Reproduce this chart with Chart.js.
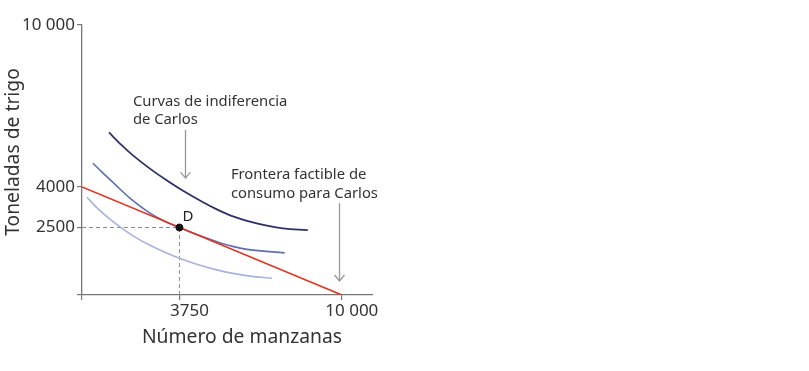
<!DOCTYPE html>
<html>
<head>
<meta charset="utf-8">
<script src="https://cdn.jsdelivr.net/npm/chart.js@4/dist/chart.umd.min.js"></script>
<style>
  html, body { margin: 0; padding: 0; background: #fff; }
  #wrap { width: 809px; height: 371px; position: relative; }
</style>
</head>
<body>
<div id="wrap"><canvas id="chart"></canvas></div>
<script>
// Ejes
const xTicks = [0, 3750, 10000];
const yTicks = [0, 2500, 4000, 10000];
const tickLabels = { 0: '', 2500: '2500', 3750: '3750', 4000: '4000', 10000: '10 000' };

// Frontera factible: 4000 toneladas de trigo o 10 000 manzanas
const frontierX = [0, 10000];
const frontierY = [4000, 0];

// Punto D
const pointD = [3750, 2500];

// Curvas de indiferencia
const outerX = [1040, 1460, 1960, 2600, 3270, 3890, 4540, 5190, 5810, 6460, 7120, 7730, 8690];
const outerY = [6020, 5610, 5170, 4690, 4240, 3860, 3500, 3170, 2910, 2720, 2570, 2470, 2400];
const middleX = [420, 770, 1270, 1900, 2600, 3200, 3750, 4500, 5200, 5800, 6500, 7800];
const middleY = [4880, 4550, 4100, 3540, 3040, 2720, 2500, 2210, 1970, 1800, 1670, 1560];
const innerX = [190, 650, 1270, 1920, 2580, 3190, 3850, 4540, 5190, 5810, 6460, 7310];
const innerY = [3620, 3160, 2660, 2220, 1860, 1580, 1320, 1100, 930, 800, 700, 620];

// Anotaciones (en coordenadas de datos)
const notes = [
  { x: 1960, y: 7150, text: 'Curvas de indiferencia' },
  { x: 1960, y: 6480, text: 'de Carlos' },
  { x: 5730, y: 4440, text: 'Frontera factible de' },
  { x: 5730, y: 3740, text: 'consumo para Carlos' },
];
const arrows = [
  { x: 3950, from: 6110, to: 4330 },
  { x: 9880, from: 3400, to: 520 },
];

const FONT = '"Noto Sans", "DejaVu Sans", sans-serif';
const toPts = (xs, ys) => xs.map((x, i) => ({ x, y: ys[i] }));

const curve = (data, color, width) => ({
  data,
  showLine: true,
  borderColor: color,
  borderWidth: width,
  pointRadius: 0,
  tension: 0.4,
  fill: false,
});

const annotations = {
  id: 'annotations',
  afterDatasetsDraw(chart) {
    const { ctx, scales: { x, y } } = chart;
    ctx.save();
    ctx.fillStyle = '#333';
    ctx.font = '14.8px ' + FONT;
    ctx.textBaseline = 'middle';
    ctx.textAlign = 'left';
    notes.forEach((n) => ctx.fillText(n.text, x.getPixelForValue(n.x), y.getPixelForValue(n.y)));

    // flechas
    ctx.strokeStyle = '#999';
    ctx.lineWidth = 1.3;
    arrows.forEach((a) => {
      const px = Math.round(x.getPixelForValue(a.x)) + 0.5;
      const y0 = y.getPixelForValue(a.from);
      const y1 = y.getPixelForValue(a.to);
      ctx.beginPath();
      ctx.moveTo(px, y0);
      ctx.lineTo(px, y1);
      ctx.moveTo(px - 5, y1 - 6);
      ctx.lineTo(px, y1);
      ctx.lineTo(px + 5, y1 - 6);
      ctx.stroke();
    });

    // etiqueta D
    ctx.font = '15px ' + FONT;
    ctx.fillStyle = '#222';
    ctx.fillText('D', x.getPixelForValue(pointD[0]) + 3, y.getPixelForValue(pointD[1]) - 11);

    // títulos de ejes
    ctx.fillStyle = '#333';
    ctx.font = '19.3px ' + FONT;
    ctx.textAlign = 'center';
    ctx.fillText('Número de manzanas', chart.chartArea.left + 160, chart.chartArea.bottom + 43);
    ctx.translate(chart.chartArea.left - 68, chart.chartArea.top + 127);
    ctx.rotate(-Math.PI / 2);
    ctx.fillText('Toneladas de trigo', 0, 0);
    ctx.restore();
  },
};

new Chart(document.getElementById('chart'), {
  type: 'scatter',
  data: {
    datasets: [
      { data: [{ x: pointD[0], y: pointD[1] }], pointRadius: 3.5, pointBackgroundColor: '#111', pointBorderColor: '#111', showLine: false },
      { data: toPts(frontierX, frontierY), showLine: true, borderColor: '#e2311d', borderWidth: 1.6, pointRadius: 0 },
      curve(toPts(outerX, outerY), '#2c3168', 1.8),
      curve(toPts(middleX, middleY), '#5d6fb2', 1.6),
      curve(toPts(innerX, innerY), '#a5b3de', 1.6),
      {
        data: [{ x: 0, y: pointD[1] }, { x: pointD[0], y: pointD[1] }, { x: pointD[0], y: 0 }],
        showLine: true, borderColor: '#8a8a8a', borderWidth: 1, borderDash: [4, 3], pointRadius: 0,
      },
    ],
  },
  options: {
    responsive: true,
    maintainAspectRatio: false,
    animation: false,
    events: [],
    layout: { padding: { top: 25, right: 436, bottom: 0, left: 0 } },
    plugins: { legend: { display: false }, tooltip: { enabled: false } },
    scales: {
      x: {
        type: 'linear',
        min: 0,
        max: 11200,
        afterBuildTicks: (s) => { s.ticks = xTicks.map((v) => ({ value: v })); },
        afterFit: (s) => { s.height = 76; },
        ticks: {
          autoSkip: false,
          maxRotation: 0,
          padding: 1,
          labelOffset: 10,
          color: '#333',
          font: { family: FONT, size: 17 },
          callback: (v) => tickLabels[v],
        },
        grid: { display: true, drawOnChartArea: false, drawTicks: true, tickLength: 5, color: '#777', lineWidth: 1.2 },
        border: { display: true, color: '#777', width: 1.3 },
      },
      y: {
        type: 'linear',
        min: 0,
        max: 10000,
        afterBuildTicks: (s) => { s.ticks = yTicks.map((v) => ({ value: v })); },
        afterFit: (s) => { s.width = 82; },
        ticks: {
          autoSkip: false,
          padding: 2,
          color: '#333',
          font: { family: FONT, size: 17 },
          callback: (v) => tickLabels[v],
        },
        grid: { display: true, drawOnChartArea: false, drawTicks: true, tickLength: 5, color: '#777', lineWidth: 1.2 },
        border: { display: true, color: '#777', width: 1.3 },
      },
    },
  },
  plugins: [annotations],
});
</script>
</body>
</html>
